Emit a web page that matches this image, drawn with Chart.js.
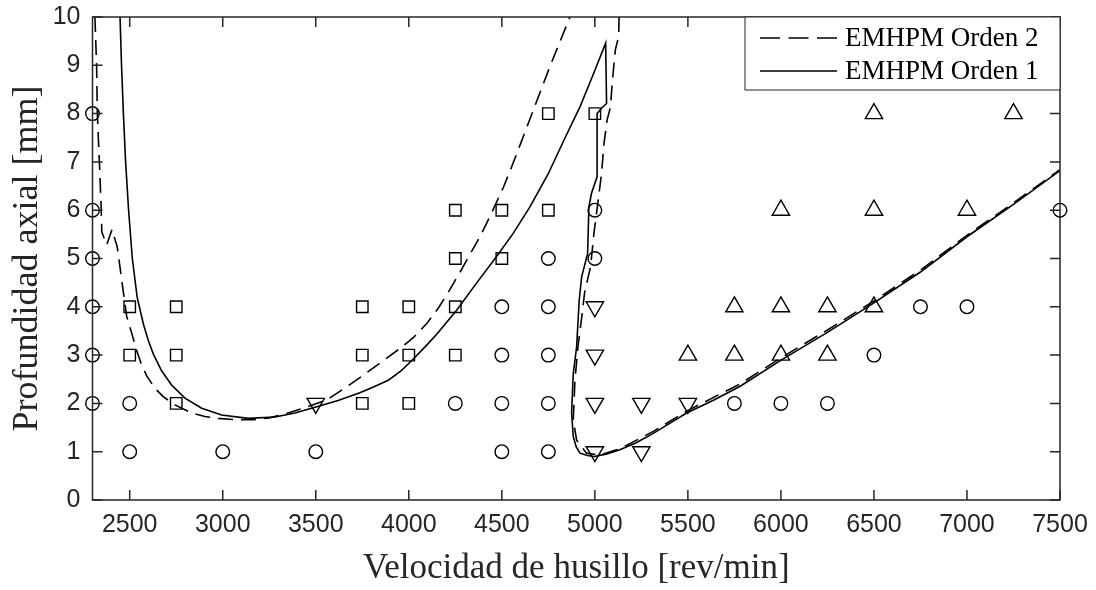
<!DOCTYPE html>
<html>
<head>
<meta charset="utf-8">
<script src="https://cdn.jsdelivr.net/npm/chart.js@4.4.1/dist/chart.umd.min.js"></script>
<style>
  html, body { margin: 0; padding: 0; background: #fff; }
  #caja { width: 1096px; height: 590px; }
</style>
</head>
<body>
<div id="caja"><canvas id="grafico"></canvas></div>
<script>
// Ejes
const xTicks = [2500, 3000, 3500, 4000, 4500, 5000, 5500, 6000, 6500, 7000, 7500];
const yTicks = [0, 1, 2, 3, 4, 5, 6, 7, 8, 9, 10];

// Ensayos - circulos
const circX = [2300, 2300, 2300, 2300, 2300, 2300, 2500, 2500, 3000, 3500, 4250, 4500, 4500, 4500, 4500, 4750, 4750, 4750, 4750, 4750, 5000, 5000, 5750, 6000, 6250, 6500, 6750, 7000, 7500];
const circY = [8, 6, 5, 4, 3, 2, 2, 1, 1, 1, 2, 4, 3, 2, 1, 5, 4, 3, 2, 1, 6, 5, 2, 2, 2, 3, 4, 4, 6];
// Ensayos - cuadrados
const cuadX = [2500, 2500, 2750, 2750, 2750, 3750, 3750, 3750, 4000, 4000, 4000, 4250, 4250, 4250, 4250, 4500, 4500, 4750, 4750, 5000];
const cuadY = [4, 3, 4, 3, 2, 4, 3, 2, 4, 3, 2, 6, 5, 4, 3, 6, 5, 8, 6, 8];
// Ensayos - triangulos hacia abajo
const trAbX = [3500, 5000, 5000, 5000, 5000, 5250, 5250, 5500];
const trAbY = [2, 4, 3, 2, 1, 2, 1, 2];
// Ensayos - triangulos hacia arriba
const trArX = [5500, 5750, 5750, 6000, 6000, 6000, 6250, 6250, 6500, 6500, 6500, 7000, 7250];
const trArY = [3, 4, 3, 6, 4, 3, 4, 3, 8, 6, 4, 6, 8];

// Lobulos EMHPM Orden 1 (continua)
const orden1X = [2448, 2456, 2466, 2478, 2494, 2514, 2540, 2573, 2600, 2627, 2672, 2725, 2797, 2887, 2994, 3137, 3281, 3388, 3496, 3620, 3737, 3810, 3890, 3960, 4024, 4090, 4150, 4257, 4364, 4472, 4561, 4651, 4749, 4840, 4920, 4990, 5058, 5063, 5036, 5012, 5012, 4982, 4968, 4961, 4929, 4916, 4902, 4884, 4875, 4884, 4900, 4920, 4960, 4997, 5060, 5134, 5220, 5314, 5400, 5493, 5640, 5779, 6003, 6250, 6500, 6750, 7000, 7250, 7500];
const orden1Y = [10, 9, 8, 7, 6, 5, 4.2, 3.65, 3.3, 3.02, 2.67, 2.38, 2.11, 1.9, 1.76, 1.69, 1.72, 1.8, 1.92, 2.06, 2.22, 2.34, 2.48, 2.68, 2.92, 3.18, 3.43, 3.93, 4.49, 5.04, 5.52, 6.07, 6.75, 7.5, 8.14, 8.8, 9.46, 8.21, 8.11, 8.0, 6.69, 6.35, 6.07, 5.1, 4.62, 4.14, 3.17, 2.62, 1.8, 1.31, 1.1, 0.97, 0.92, 0.9, 0.95, 1.04, 1.18, 1.38, 1.58, 1.8, 2.07, 2.35, 2.9, 3.47, 4.08, 4.72, 5.45, 6.12, 6.82];

// Lobulos EMHPM Orden 2 (discontinua), dos tramos
const orden2aX = [2313, 2322, 2326, 2337, 2347, 2350, 2376, 2405, 2433, 2445, 2463, 2484, 2511, 2537, 2560, 2590, 2636, 2680, 2743, 2833, 2904, 2976, 3083, 3164, 3250, 3343, 3450, 3558, 3650, 3750, 3850, 3950, 4024, 4100, 4160, 4220, 4292, 4382, 4436, 4508, 4553, 4606, 4669, 4758, 4866];
const orden2aY = [10, 9, 8, 7, 6, 5.55, 5.28, 5.6, 5.24, 4.9, 4.38, 3.8, 3.45, 3.1, 2.84, 2.58, 2.31, 2.14, 1.97, 1.8, 1.73, 1.69, 1.66, 1.66, 1.7, 1.79, 1.92, 2.07, 2.3, 2.57, 2.85, 3.13, 3.36, 3.67, 3.98, 4.35, 4.83, 5.45, 5.87, 6.47, 6.9, 7.43, 8.07, 8.97, 10];
const orden2bX = [5130, 5128, 5110, 5093, 5084, 5066, 5049, 5036, 5018, 4995, 4977, 4945, 4930, 4910, 4893, 4884, 4902, 4955, 5027, 5140, 5314, 5493, 5779, 6003, 6250, 6500, 6750, 7000, 7250, 7500];
const orden2bY = [10, 9.6, 9.32, 8.63, 8.14, 7.87, 7.38, 6.76, 6.21, 5.52, 4.83, 4.3, 3.8, 3.2, 2.48, 1.66, 1.24, 0.97, 0.93, 1.07, 1.42, 1.84, 2.4, 2.95, 3.52, 4.12, 4.76, 5.48, 6.15, 6.84];

const tinta = '#262626';
const guion = [15, 8];
const leyenda = [
  { texto: 'EMHPM Orden 2', dash: [20, 8.5] },
  { texto: 'EMHPM Orden 1', dash: [] }
];

const pts = (xs, ys) => xs.map((x, i) => ({ x: x, y: ys[i] }));

const marcador = (label, xs, ys, estilo, radio, giro) => ({
  label: label,
  data: pts(xs, ys),
  showLine: false,
  pointStyle: estilo,
  pointRadius: radio,
  pointRotation: giro || 0,
  pointBorderColor: '#000',
  pointBackgroundColor: 'rgba(0,0,0,0)',
  pointBorderWidth: 1.4,
  clip: false
});

const curva = (label, xs, ys, dash) => ({
  label: label,
  data: pts(xs, ys),
  showLine: true,
  borderColor: '#000',
  borderWidth: 1.6,
  borderDash: dash,
  pointRadius: 0,
  tension: 0,
  fill: false
});

// marco, marcas hacia dentro y leyenda
const marco = {
  id: 'marco',
  afterDraw(chart) {
    const { ctx, chartArea: a, scales: { x, y } } = chart;
    ctx.save();
    ctx.strokeStyle = tinta;
    ctx.lineWidth = 1.5;
    ctx.strokeRect(a.left, a.top, a.right - a.left, a.bottom - a.top);
    ctx.beginPath();
    xTicks.forEach(v => {
      const px = x.getPixelForValue(v);
      ctx.moveTo(px, a.bottom); ctx.lineTo(px, a.bottom - 10);
      ctx.moveTo(px, a.top); ctx.lineTo(px, a.top + 10);
    });
    yTicks.forEach(v => {
      const py = y.getPixelForValue(v);
      ctx.moveTo(a.left, py); ctx.lineTo(a.left + 10, py);
      ctx.moveTo(a.right, py); ctx.lineTo(a.right - 10, py);
    });
    ctx.stroke();

    const bw = 315, bh = 73;
    const bx = a.right - bw, by = a.top;
    ctx.fillStyle = '#fff';
    ctx.fillRect(bx, by, bw, bh);
    ctx.lineWidth = 1;
    ctx.strokeRect(bx, by, bw, bh);
    ctx.font = '27px "Liberation Serif"';
    ctx.textBaseline = 'middle';
    ctx.textAlign = 'left';
    leyenda.forEach((e, i) => {
      const yy = by + 21 + i * 33;
      ctx.setLineDash(e.dash);
      ctx.lineWidth = 1.6;
      ctx.strokeStyle = '#000';
      ctx.beginPath();
      ctx.moveTo(bx + 15, yy);
      ctx.lineTo(bx + 92, yy);
      ctx.stroke();
      ctx.setLineDash([]);
      ctx.fillStyle = '#000';
      ctx.fillText(e.texto, bx + 100, yy + 1);
    });
    ctx.restore();
  }
};

const ctx = document.getElementById('grafico').getContext('2d');
const grafico = new Chart(ctx, {
  type: 'scatter',
  data: {
    datasets: [
      curva('EMHPM Orden 2', orden2aX, orden2aY, guion),
      curva('EMHPM Orden 2 b', orden2bX, orden2bY, guion),
      curva('EMHPM Orden 1', orden1X, orden1Y, []),
      marcador('Estable', circX, circY, 'circle', 6.8),
      marcador('Inestable', cuadX, cuadY, 'rect', 8.1),
      marcador('Marginal', trAbX, trAbY, 'triangle', 10, 180),
      marcador('Chatter', trArX, trArY, 'triangle', 10)
    ]
  },
  options: {
    responsive: true,
    maintainAspectRatio: false,
    animation: false,
    events: [],
    layout: { padding: { top: 17, right: 36, left: 0, bottom: 0 } },
    plugins: {
      legend: { display: false },
      tooltip: { enabled: false }
    },
    scales: {
      x: {
        type: 'linear',
        min: 2300,
        max: 7500,
        afterBuildTicks: s => { s.ticks = xTicks.map(v => ({ value: v })); },
        afterFit: s => { s.height = 90; s.paddingLeft = 0; s.paddingRight = 0; },
        grid: { display: false, drawTicks: false },
        border: { display: false },
        ticks: { color: tinta, padding: 10, maxRotation: 0, autoSkip: false, callback: v => String(v), font: { family: 'Liberation Sans', size: 25 } },
        title: { display: true, text: 'Velocidad de husillo [rev/min]', color: tinta, padding: { top: 0, bottom: 0 }, font: { family: 'Liberation Serif', size: 35 } }
      },
      y: {
        type: 'linear',
        min: 0,
        max: 10,
        afterBuildTicks: s => { s.ticks = yTicks.map(v => ({ value: v })); },
        afterFit: s => { s.width = 92.5; s.paddingTop = 0; s.paddingBottom = 0; },
        grid: { display: false, drawTicks: false },
        border: { display: false },
        ticks: { color: tinta, padding: 12, callback: v => String(v), font: { family: 'Liberation Sans', size: 25 } },
        title: { display: true, text: 'Profundidad axial [mm]', color: tinta, padding: { top: 6, bottom: 0 }, font: { family: 'Liberation Serif', size: 36 } }
      }
    }
  },
  plugins: [marco]
});
</script>
</body>
</html>
